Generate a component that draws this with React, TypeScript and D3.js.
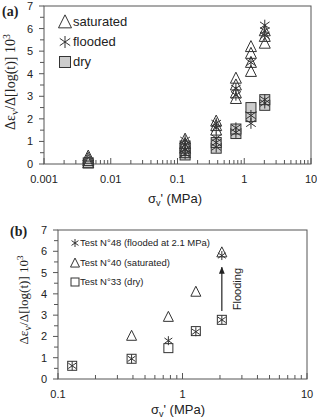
import React from 'react';
import * as d3 from 'd3';

// panel (a): all tests, grouped by condition
const satA: [number, number][] = [
  [0.0046, 0.05], [0.0046, 0.15], [0.0046, 0.25], [0.0046, 0.35],
  [0.13, 0.5], [0.13, 0.7], [0.13, 0.9], [0.13, 1.1],
  [0.38, 1.5], [0.38, 1.7], [0.38, 1.9],
  [0.75, 2.9], [0.75, 3.15], [0.75, 3.5], [0.75, 3.8],
  [1.26, 4.1], [1.26, 4.5], [1.26, 4.9], [1.26, 5.2],
  [2.03, 5.35], [2.03, 5.65], [2.03, 5.9],
];
const floodA: [number, number][] = [
  [0.13, 0.45], [0.13, 0.65], [0.13, 0.85], [0.13, 1.05],
  [0.38, 0.75], [0.38, 0.95], [0.38, 1.15], [0.38, 1.6], [0.38, 1.8],
  [0.75, 1.4], [0.75, 1.6], [0.75, 3.05], [0.75, 3.35],
  [1.26, 1.8], [1.26, 2.15], [1.26, 4.5],
  [2.03, 2.7], [2.03, 2.85], [2.03, 5.7], [2.03, 5.9], [2.03, 6.15],
];
const dryA: [number, number][] = [
  [0.0046, 0.05],
  [0.13, 0.4], [0.13, 0.6], [0.13, 0.8],
  [0.38, 0.7], [0.38, 0.95],
  [0.75, 1.35], [0.75, 1.55],
  [1.26, 2.1], [1.26, 2.5],
  [2.03, 2.6], [2.03, 2.85],
];

// panel (b): three single tests
const test48: [number, number][] = [
  [0.13, 0.62], [0.39, 0.95], [0.77, 1.8], [1.28, 2.22], [2.07, 2.78], [2.07, 5.8],
];
const test40: [number, number][] = [
  [0.39, 2.03], [0.77, 2.92], [1.28, 4.1], [2.07, 5.95],
];
const test33: [number, number][] = [
  [0.13, 0.62], [0.39, 0.95], [0.77, 1.45], [1.28, 2.25], [2.07, 2.78],
];
const floodingArrow = { x: 2.07, from: 3.2, to: 5.25 };

const yTicks = [0, 1, 2, 3, 4, 5, 6, 7];
const yMinor = [0.5, 1.5, 2.5, 3.5, 4.5, 5.5, 6.5];
const xTicksA = [0.001, 0.01, 0.1, 1, 10];
const xTicksB = [0.1, 1, 10];

const INK = '#333';
const AXIS = '#555';
const SANS = 'Liberation Sans, Arial, sans-serif';
const SERIF = 'Liberation Serif, Times New Roman, serif';

const Tri = ({ x, y, s, fill = 'none' }: any) => (
  <path
    d={`M${x},${y - s * 0.55}L${x + s * 0.5},${y + s * 0.45}L${x - s * 0.5},${y + s * 0.45}Z`}
    fill={fill}
    stroke={INK}
    strokeWidth={1}
  />
);
const Sq = ({ x, y, s, fill = 'none' }: any) => (
  <rect x={x - s / 2} y={y - s / 2} width={s} height={s} fill={fill} stroke={INK} strokeWidth={1} />
);
const Ast = ({ x, y, s }: any) => {
  const r = s / 2;
  const dx = r * 0.87;
  const dy = r * 0.6;
  return (
    <path
      d={`M${x},${y - r}L${x},${y + r}M${x - dx},${y - dy}L${x + dx},${y + dy}M${x - dx},${y + dy}L${x + dx},${y - dy}`}
      stroke={INK}
      strokeWidth={1}
      fill="none"
    />
  );
};

const minorLog = (lo: number, hi: number) => {
  const out: number[] = [];
  for (let d = lo; d < hi; d *= 10) {
    for (let k = 2; k <= 9; k++) out.push(d * k);
  }
  return out;
};

const YLabel = ({ x, y, size }: any) => (
  <text
    transform={`translate(${x},${y}) rotate(-90)`}
    textAnchor="middle"
    fontFamily={SERIF}
    fontSize={size}
    fill="#222"
  >
    Δε<tspan fontSize={size * 0.75} dy={3}>v</tspan>
    <tspan dy={-3}>/Δ[log(t)] 10</tspan>
    <tspan fontSize={size * 0.7} dy={-5}>3</tspan>
  </text>
);

const XLabel = ({ x, y }: any) => (
  <text x={x} y={y} textAnchor="middle" fontFamily={SANS} fontSize={13} fill="#222">
    σ<tspan fontSize={9} dy={3}>v</tspan>
    <tspan dy={-3}>' (MPa)</tspan>
  </text>
);

const Frame = ({ x, y, xTicks, xMin, xMax }: any) => {
  const [x0, x1] = x.range();
  const [y0, y1] = y.range();
  return (
    <g>
      <rect x={x0} y={y1} width={x1 - x0} height={y0 - y1} fill="none" stroke={AXIS} strokeWidth={1} />
      {yTicks.map((t) => (
        <g key={'y' + t}>
          <line x1={x0 - 5} x2={x0} y1={y(t)} y2={y(t)} stroke={AXIS} />
          <text x={x0 - 11} y={y(t) + 4} textAnchor="end" fontFamily={SANS} fontSize={11} fill="#222">
            {t}
          </text>
        </g>
      ))}
      {yMinor.map((t) => (
        <line key={'ym' + t} x1={x0 - 4} x2={x0} y1={y(t)} y2={y(t)} stroke={AXIS} />
      ))}
      {xTicks.map((t: number) => (
        <g key={'x' + t}>
          <line x1={x(t)} x2={x(t)} y1={y0} y2={y0 - 6} stroke={AXIS} />
          <text x={x(t)} y={y0 + 19} textAnchor="middle" fontFamily={SANS} fontSize={11} fill="#222">
            {String(t)}
          </text>
        </g>
      ))}
      {minorLog(xMin, xMax).map((t) => (
        <line key={'xm' + t} x1={x(t)} x2={x(t)} y1={y0} y2={y0 - 4} stroke={AXIS} />
      ))}
    </g>
  );
};

export default function App() {
  const xA = d3.scaleLog().domain([0.001, 10]).range([44, 311]);
  const yA = d3.scaleLinear().domain([0, 7]).range([164, 6]);
  const xB = d3.scaleLog().domain([0.1, 10]).range([58, 307]);
  const yB = d3.scaleLinear().domain([0, 7]).range([379, 230]);

  return (
    <div style={{ position: 'absolute', left: 0, top: 0 }}>
      <svg width={317} height={418} style={{ display: 'block', background: '#fff' }}>
        {/* (a) */}
        <text x={2} y={16} fontFamily={SERIF} fontWeight="bold" fontSize={14} fill="#222">(a)</text>
        <Frame x={xA} y={yA} xTicks={xTicksA} xMin={0.001} xMax={10} />
        {dryA.map(([v, e], i) => (
          <Sq key={'da' + i} x={xA(v)} y={yA(e)} s={10} fill="#ccc" />
        ))}
        {satA.map(([v, e], i) => (
          <Tri key={'sa' + i} x={xA(v)} y={yA(e)} s={11} />
        ))}
        {floodA.map(([v, e], i) => (
          <Ast key={'fa' + i} x={xA(v)} y={yA(e)} s={11} />
        ))}
        <Tri x={65} y={22} s={13} />
        <text x={73} y={26} fontFamily={SANS} fontSize={13} fill="#222">saturated</text>
        <Ast x={65} y={42} s={12} />
        <text x={73} y={46} fontFamily={SANS} fontSize={13} fill="#222">flooded</text>
        <Sq x={65} y={62} s={11} fill="#ccc" />
        <text x={73} y={66} fontFamily={SANS} fontSize={13} fill="#222">dry</text>
        <YLabel x={15} y={82} size={14} />
        <XLabel x={175} y={203} />

        {/* (b) */}
        <text x={10} y={236} fontFamily={SERIF} fontWeight="bold" fontSize={14} fill="#222">(b)</text>
        <Frame x={xB} y={yB} xTicks={xTicksB} xMin={0.1} xMax={10} />
        {test33.map(([v, e], i) => (
          <Sq key={'d' + i} x={xB(v)} y={yB(e)} s={9} />
        ))}
        {test40.map(([v, e], i) => (
          <Tri key={'s' + i} x={xB(v)} y={yB(e)} s={10} />
        ))}
        {test48.map(([v, e], i) => (
          <Ast key={'f' + i} x={xB(v)} y={yB(e)} s={9} />
        ))}
        <defs>
          <marker id="arr" viewBox="0 0 10 10" refX={9} refY={5} markerWidth={6} markerHeight={6} orient="auto">
            <path d="M0,1L10,5L0,9Z" fill="#222" />
          </marker>
        </defs>
        <line
          x1={xB(floodingArrow.x)}
          x2={xB(floodingArrow.x)}
          y1={yB(floodingArrow.from)}
          y2={yB(floodingArrow.to)}
          stroke="#222"
          strokeWidth={1.2}
          markerEnd="url(#arr)"
        />
        <text
          transform={`translate(${xB(floodingArrow.x) + 19},${yB((floodingArrow.from + floodingArrow.to) / 2)}) rotate(-90)`}
          textAnchor="middle"
          fontFamily={SANS}
          fontSize={11}
          fill="#222"
        >
          Flooding
        </text>
        <Ast x={75} y={243} s={8} />
        <text x={80} y={246} fontFamily={SANS} fontSize={9.5} fill="#222">Test N°48 (flooded at 2.1 MPa)</text>
        <Tri x={75} y={263} s={9} />
        <text x={80} y={266} fontFamily={SANS} fontSize={9.5} fill="#222">Test N°40 (saturated)</text>
        <Sq x={75} y={282} s={8} />
        <text x={80} y={285} fontFamily={SANS} fontSize={9.5} fill="#222">Test N°33 (dry)</text>
        <YLabel x={28} y={300} size={13} />
        <XLabel x={178} y={414} />
      </svg>
    </div>
  );
}
